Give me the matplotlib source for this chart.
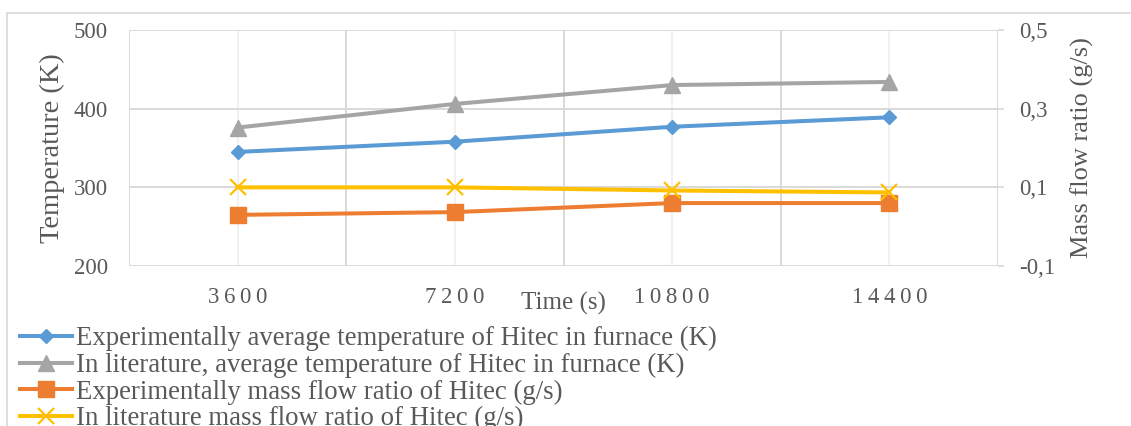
import matplotlib
matplotlib.use("Agg")
import matplotlib.pyplot as plt
from matplotlib.lines import Line2D

# Dados do ensaio (Hitec no forno)
time_s = [3600, 7200, 10800, 14400]
temp_exp = [345, 358, 377, 389]          # K
temp_lit = [376, 406, 430, 434]          # K
flow_exp = [0.030, 0.037, 0.060, 0.060]  # g/s
flow_lit = [0.100, 0.100, 0.092, 0.087]  # g/s

temp_ticks = [200, 300, 400, 500]
flow_ticks = [-0.1, 0.1, 0.3, 0.5]

labels = [
    "Experimentally average temperature of Hitec in furnace (K)",
    "In literature, average temperature of Hitec in furnace (K)",
    "Experimentally mass flow ratio of Hitec (g/s)",
    "In literature mass flow ratio of Hitec (g/s)",
]

BLUE = "#5B9BD5"
GRAY = "#A5A5A5"
ORANGE = "#ED7D31"
YELLOW = "#FFC000"
TXT = "#595959"
GRID = "#D9D9D9"

plt.rcParams["font.family"] = ["Liberation Serif", "DejaVu Serif"]

W, H = 1131, 426
fig = plt.figure(figsize=(W / 100, H / 100), dpi=100)

# moldura exterior do gráfico
fig.add_artist(Line2D([7 / W, 7 / W], [0, 1 - 13 / H], color=GRID, lw=1.2))
fig.add_artist(Line2D([7 / W, 1], [1 - 13 / H, 1 - 13 / H], color=GRID, lw=1.2))

ax = fig.add_axes([129 / W, (H - 266) / H, 869 / W, 236 / H])
ax2 = ax.twinx()

x = list(range(len(time_s)))

# grelha: linhas entre categorias mais escuras, centros mais claros
for xc in x:
    ax.axvline(xc, color="#EFEFEF", lw=1.2, zorder=0)
for xb in [-0.5, 0.5, 1.5, 2.5, 3.5]:
    ax.axvline(xb, color=GRID, lw=1.4, zorder=0)
for yt in temp_ticks:
    ax.axhline(yt, color=GRID, lw=1.4, zorder=0)

ax.plot(x, temp_exp, color=BLUE, lw=2.9, marker="D", ms=7.5, zorder=3)
ax.plot(x, temp_lit, color=GRAY, lw=2.9, marker="^", ms=11, zorder=3)
ax2.plot(x, flow_exp, color=ORANGE, lw=2.9, marker="s", ms=11.5, zorder=3)
ax2.plot(x, flow_lit, color=YELLOW, lw=2.9, marker="x", ms=11, mew=1.6, zorder=4)

ax.set_xlim(-0.5, 3.5)
ax.set_ylim(200, 500)
ax2.set_ylim(-0.1, 0.5)

ax.set_xticks(x)
ax.set_xticklabels(["\u2009".join(str(t)) for t in time_s])
ax.set_yticks(temp_ticks)
ax2.set_yticks(flow_ticks)
ax2.set_yticklabels([f"{v:.1f}".replace(".", ",") for v in flow_ticks])

for a in (ax, ax2):
    for s in a.spines.values():
        s.set_visible(False)

ax.tick_params(axis="x", length=0, pad=15, labelsize=16.5, labelcolor=TXT)
ax.tick_params(axis="y", length=0, pad=15, labelsize=16.5, labelcolor=TXT)
ax2.tick_params(axis="y", length=4, width=1.2, color=GRID, pad=11,
                labelsize=16.5, labelcolor=TXT)

ax.set_ylabel("Temperature (K)", fontsize=20.5, color=TXT, va="center")
ax.yaxis.set_label_coords(-0.0886, 0.5)
ax2.set_ylabel("Mass flow ratio (g/s)", fontsize=19, color=TXT, va="center")
ax2.yaxis.set_label_coords(1.0967, 0.5)
ax.set_xlabel("Time (s)", fontsize=18, color=TXT, va="center")
ax.xaxis.set_label_coords(0.5, -0.16)

handles = [
    Line2D([], [], color=BLUE, lw=2.9, marker="D", ms=7.5),
    Line2D([], [], color=GRAY, lw=2.9, marker="^", ms=11),
    Line2D([], [], color=ORANGE, lw=2.9, marker="s", ms=11.5),
    Line2D([], [], color=YELLOW, lw=2.9, marker="x", ms=11, mew=1.6),
]
fig.legend(handles, labels, loc="upper left", bbox_to_anchor=(20 / W, 1 - 326 / H),
           frameon=False, fontsize=19.3, labelcolor=TXT, handlelength=1.95,
           handletextpad=0.15, labelspacing=0.06, borderpad=0, borderaxespad=0)

fig.savefig("out.png", dpi=100)
